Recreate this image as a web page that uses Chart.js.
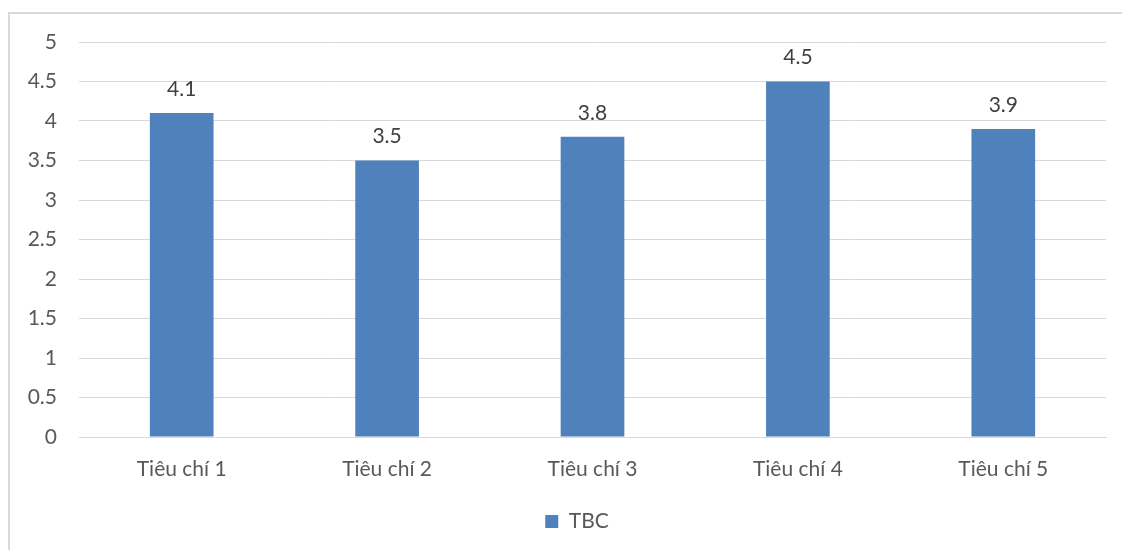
<!DOCTYPE html>
<html>
<head>
<meta charset="utf-8">
<script src="https://cdn.jsdelivr.net/npm/chart.js@4"></script>
<style>
  html, body { margin: 0; padding: 0; background: #fff; }
  #wrap { width: 1122px; height: 550px; }
</style>
</head>
<body>
<div id="wrap"><canvas id="chart" width="1122" height="550"></canvas></div>
<script>
  // Chart data
  const categories = ["Tiêu chí 1", "Tiêu chí 2", "Tiêu chí 3", "Tiêu chí 4", "Tiêu chí 5"];
  const seriesName = "TBC";
  const tbcValues = [4.1, 3.5, 3.8, 4.5, 3.9];

  const barColor = "#4F81BD";
  const textColor = "#595959";
  const fontFamily = "Lato, 'Open Sans', sans-serif";
  const fontSize = 21;

  // Light grey frame around the chart, like the office chart border
  const framePlugin = {
    id: 'frame',
    beforeDraw(chart) {
      const ctx = chart.ctx;
      ctx.save();
      ctx.fillStyle = '#fff';
      ctx.fillRect(0, 0, chart.width, chart.height);
      ctx.strokeStyle = '#d9d9d9';
      ctx.lineWidth = 2;
      ctx.beginPath();
      ctx.moveTo(9, chart.height);
      ctx.lineTo(9, 13);
      ctx.lineTo(chart.width, 13);
      ctx.stroke();
      ctx.restore();
    }
  };

  // Centre the legend under the plot area rather than the whole canvas
  const legendShift = {
    id: 'legendShift',
    afterLayout(chart) {
      if (chart.legend) chart.legend.left += 48;
    }
  };

  // Value labels above each bar
  const valueLabels = {
    id: 'valueLabels',
    afterDatasetsDraw(chart) {
      const ctx = chart.ctx;
      ctx.save();
      ctx.font = fontSize + "px " + fontFamily;
      ctx.fillStyle = "#404040";
      ctx.textAlign = 'center';
      ctx.textBaseline = 'middle';
      chart.getDatasetMeta(0).data.forEach((bar, i) => {
        ctx.fillText(String(tbcValues[i]), bar.x, bar.y - 24);
      });
      ctx.restore();
    }
  };

  new Chart(document.getElementById('chart').getContext('2d'), {
    type: 'bar',
    data: {
      labels: categories,
      datasets: [{
        label: seriesName,
        data: tbcValues,
        backgroundColor: barColor,
        borderWidth: 0,
        categoryPercentage: 1,
        barPercentage: 0.31
      }]
    },
    options: {
      responsive: false,
      animation: false,
      layout: { padding: { top: 42, right: 16, bottom: 8, left: 0 } },
      plugins: {
        legend: {
          position: 'bottom',
          labels: {
            boxWidth: 13,
            boxHeight: 13,
            padding: 10,
            color: textColor,
            font: { family: fontFamily, size: fontSize }
          }
        },
        tooltip: { enabled: false }
      },
      scales: {
        x: {
          grid: { display: false, drawTicks: false },
          border: { color: '#d9d9d9', width: 1 },
          ticks: {
            color: textColor,
            padding: 20,
            font: { family: fontFamily, size: fontSize }
          },
          afterFit(scale) { scale.height = 64; }
        },
        y: {
          min: 0,
          max: 5,
          ticks: {
            stepSize: 0.5,
            color: textColor,
            padding: 22,
            font: { family: fontFamily, size: fontSize },
            callback: (v) => String(v)
          },
          grid: { color: '#d9d9d9', drawTicks: false },
          border: { display: false },
          afterFit(scale) { scale.width = 79; }
        }
      }
    },
    plugins: [framePlugin, legendShift, valueLabels]
  });
</script>
</body>
</html>
